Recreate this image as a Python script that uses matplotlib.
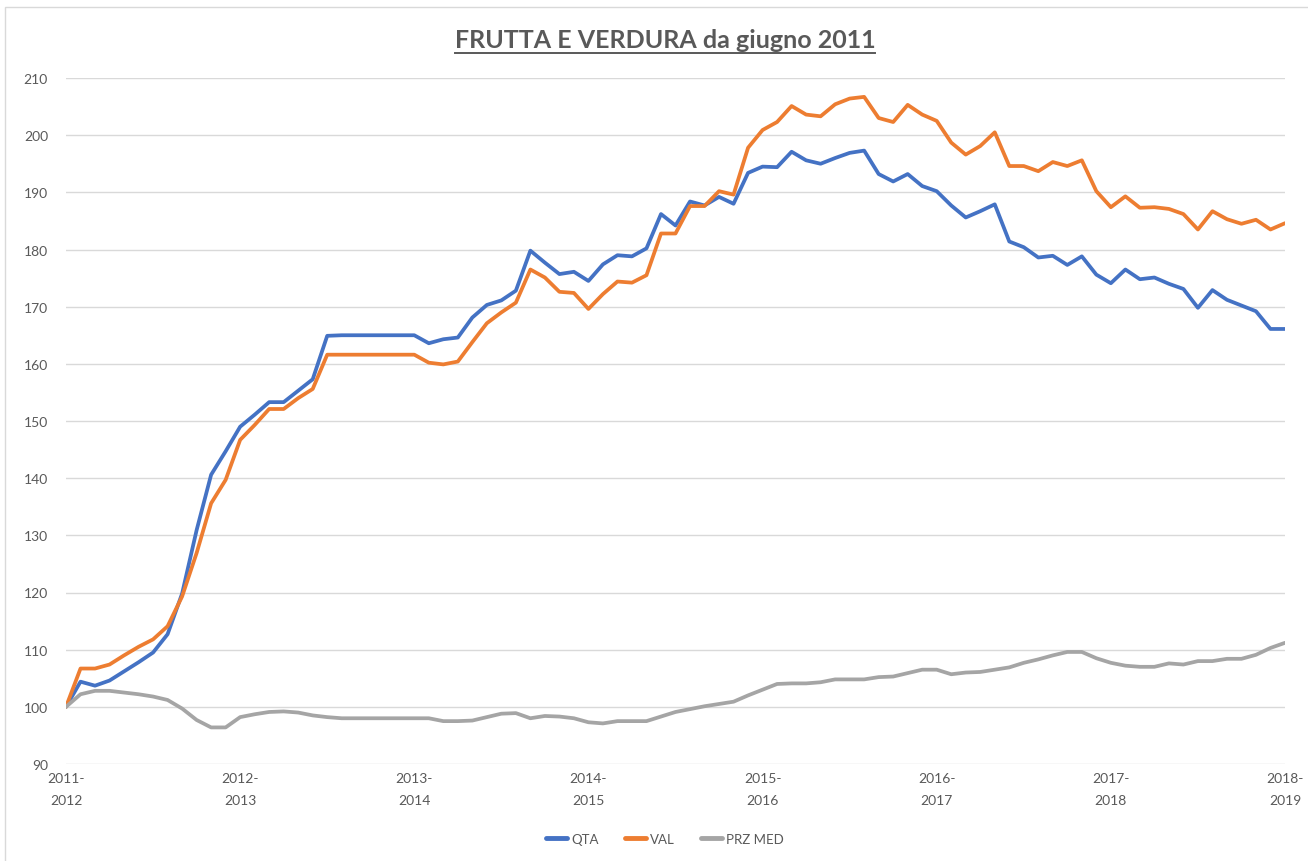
import numpy as np
import matplotlib
matplotlib.use("Agg")
import matplotlib.pyplot as plt
from matplotlib.lines import Line2D
from matplotlib.patches import Rectangle

# monthly index values (june 2011 = 100)
qta = [100.0, 104.4, 103.7, 104.6, 106.2, 107.8, 109.5, 112.7, 119.8, 130.9,
       140.6, 144.7, 149.0, 151.1, 153.3, 153.3, 155.3, 157.3, 164.9, 165.0,
       165.0, 165.0, 165.0, 165.0, 165.0, 163.6, 164.3, 164.6, 168.1, 170.3,
       171.1, 172.8, 179.8, 177.7, 175.7, 176.1, 174.5, 177.4, 179.0, 178.8,
       180.2, 186.2, 184.2, 188.4, 187.7, 189.2, 188.0, 193.4, 194.5, 194.4,
       197.1, 195.6, 195.0, 196.0, 196.9, 197.3, 193.2, 191.9, 193.2, 191.1,
       190.2, 187.7, 185.6, 186.7, 187.9, 181.4, 180.4, 178.6, 178.9, 177.3,
       178.8, 175.6, 174.1, 176.5, 174.8, 175.1, 174.0, 173.1, 169.8, 172.9,
       171.2, 170.2, 169.2, 166.1, 166.1]

val = [100.0, 106.7, 106.7, 107.4, 109.0, 110.5, 111.8, 114.1, 119.3, 126.9,
       135.6, 139.7, 146.7, 149.3, 152.1, 152.1, 154.0, 155.6, 161.6, 161.6,
       161.6, 161.6, 161.6, 161.6, 161.6, 160.2, 159.9, 160.4, 163.8, 167.1,
       169.0, 170.7, 176.5, 175.1, 172.6, 172.4, 169.6, 172.2, 174.4, 174.2,
       175.5, 182.8, 182.8, 187.6, 187.6, 190.2, 189.6, 197.8, 200.9, 202.3,
       205.1, 203.6, 203.3, 205.4, 206.4, 206.7, 203.0, 202.3, 205.3, 203.6,
       202.5, 198.7, 196.6, 198.1, 200.5, 194.6, 194.6, 193.7, 195.3, 194.6,
       195.6, 190.2, 187.4, 189.3, 187.3, 187.4, 187.1, 186.2, 183.5, 186.7,
       185.3, 184.5, 185.2, 183.5, 184.6]

prz_med = [100.0, 102.2, 102.8, 102.8, 102.5, 102.2, 101.8, 101.2, 99.7, 97.7,
           96.4, 96.4, 98.2, 98.7, 99.1, 99.2, 99.0, 98.5, 98.2, 98.0,
           98.0, 98.0, 98.0, 98.0, 98.0, 98.0, 97.5, 97.5, 97.6, 98.2,
           98.8, 98.9, 98.0, 98.4, 98.3, 98.0, 97.3, 97.1, 97.5, 97.5,
           97.5, 98.3, 99.1, 99.6, 100.1, 100.5, 100.9, 102.0, 103.0, 104.0,
           104.1, 104.1, 104.3, 104.8, 104.8, 104.8, 105.2, 105.3, 105.9, 106.5,
           106.5, 105.7, 106.0, 106.1, 106.5, 106.9, 107.7, 108.3, 109.0, 109.6,
           109.6, 108.5, 107.7, 107.2, 107.0, 107.0, 107.6, 107.4, 108.0, 108.0,
           108.4, 108.4, 109.1, 110.3, 111.2]

period_labels = ["2011-\n2012", "2012-\n2013", "2013-\n2014", "2014-\n2015",
                 "2015-\n2016", "2016-\n2017", "2017-\n2018", "2018-\n2019"]

series_names = ["QTA", "VAL", "PRZ MED"]
colors = ["#4472C4", "#ED7D31", "#A5A5A5"]
text_col = "#595959"
grid_col = "#D9D9D9"

plt.rcParams["font.family"] = ["Lato", "DejaVu Sans"]

W, H = 1308, 862
fig = plt.figure(figsize=(W / 100, H / 100), dpi=100)
fig.patch.set_facecolor("white")

# outer chart border
fig.patches.append(Rectangle((5 / W, -0.01), 1.02, (H - 8) / H + 0.01,
                             transform=fig.transFigure, fill=False,
                             edgecolor=grid_col, linewidth=1.0))

ax = fig.add_axes([66 / W, 1 - 765 / H, (1285 - 66) / W, (765 - 79) / H])

x = np.arange(len(qta))
for data, name, c in zip([qta, val, prz_med], series_names, colors):
    ax.plot(x, data, color=c, lw=2.7, label=name,
            solid_joinstyle="round", solid_capstyle="round")

ax.set_xlim(0, len(qta) - 1)
ax.set_ylim(90, 210)
ax.set_yticks(np.arange(90, 211, 10))
ax.set_xticks(np.arange(0, len(qta), 12))
ax.set_xticklabels(period_labels, linespacing=2.0)
ax.grid(axis="y", color=grid_col, lw=1.0)
ax.set_axisbelow(True)
for s in ax.spines.values():
    s.set_visible(False)
ax.tick_params(axis="y", length=0, pad=13, labelsize=10, labelcolor=text_col)
ax.tick_params(axis="x", length=0, pad=6, labelsize=10, labelcolor=text_col)

# title with underline
title = fig.text(665 / W, 1 - 41 / H, "FRUTTA E VERDURA da giugno 2011",
                 ha="center", va="center", fontsize=18, fontweight="bold",
                 color=text_col)
fig.canvas.draw()
bb = title.get_window_extent()
uy = (bb.y0 - 1) / H
fig.lines.append(Line2D([bb.x0 / W, bb.x1 / W], [uy, uy], transform=fig.transFigure,
                        color=text_col, lw=1.4))

leg = ax.legend(loc="center", bbox_to_anchor=(665 / W, 1 - 840 / H),
                bbox_transform=fig.transFigure, ncol=3, frameon=False,
                fontsize=9.5, handlelength=1.6, handletextpad=0.3,
                columnspacing=2.0, labelcolor=text_col)
for h in leg.get_lines():
    h.set_linewidth(3.5)

fig.savefig("out.png", dpi=100, facecolor="white")
